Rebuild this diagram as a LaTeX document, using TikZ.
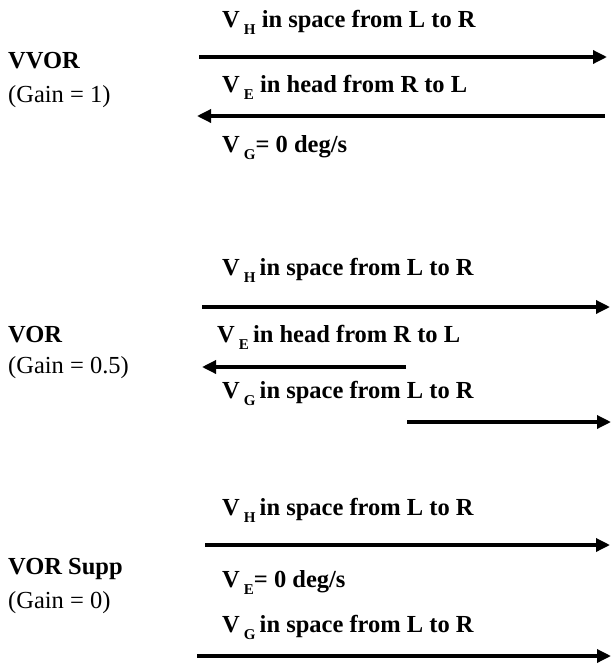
\documentclass[tikz,border=0pt]{standalone}
\usepackage{fontspec}
\setmainfont{Liberation Serif}
\usetikzlibrary{arrows.meta}
\def\vsub#1{V\,\raisebox{-0.3em}{\fontsize{15}{15}\selectfont #1}}

\begin{document}
\begin{tikzpicture}[x=1pt, y=-1pt, font=\fontsize{24.5}{29}\selectfont,
    txt/.style={anchor=base west, inner sep=0pt, font=\fontsize{24.5}{29}\selectfont\bfseries},
    gain/.style={anchor=base west, inner sep=0pt},
    vel/.style={draw=black, line width=3.3pt, -{Triangle[length=14pt, width=13pt]}}]
    \useasboundingbox (0, 0) rectangle (611, 664);
    % VVOR
    \node [txt] (vvor) at (8, 68) {VVOR};
    \node [gain] (gainA) at (8, 102) {(Gain = 1)};
    \node [txt] (headA) at (222, 27) {\vsub{H}\ in space from L to R};
    \node [txt] (eyeA) at (222, 92) {\vsub{E}\ in head from R to L};
    \node [txt] (gazeA) at (222, 152) {\vsub{G}= 0 deg/s};
    \coordinate (headAl) at (199, 57); \coordinate (headAr) at (607, 57);
    \coordinate (eyeAl) at (197, 116); \coordinate (eyeAr) at (605, 116);
    \path[vel] (headAl) -- (headAr);
    \path[vel] (eyeAr) -- (eyeAl);
    % VOR
    \node [txt] (vor) at (8, 342) {VOR};
    \node [gain] (gainB) at (8, 373) {(Gain = 0.5)};
    \node [txt] (headB) at (222, 275) {\vsub{H}\,in space from L to R};
    \node [txt] (eyeB) at (217, 342) {\vsub{E}\,in head from R to L};
    \node [txt] (gazeB) at (222, 398) {\vsub{G}\,in space from L to R};
    \coordinate (headBl) at (202, 307); \coordinate (headBr) at (610, 307);
    \coordinate (eyeBl) at (202, 367); \coordinate (eyeBr) at (406, 367);
    \coordinate (gazeBl) at (407, 422); \coordinate (gazeBr) at (611, 422);
    \path[vel] (headBl) -- (headBr);
    \path[vel] (eyeBr) -- (eyeBl);
    \path[vel] (gazeBl) -- (gazeBr);
    % VOR suppression
    \node [txt] (supp) at (8, 574) {VOR Supp};
    \node [gain] (gainC) at (8, 608) {(Gain = 0)};
    \node [txt] (headC) at (222, 515) {\vsub{H}\,in space from L to R};
    \node [txt] (eyeC) at (222, 587) {\vsub{E}= 0 deg/s};
    \node [txt] (gazeC) at (222, 632) {\vsub{G}\,in space from L to R};
    \coordinate (headCl) at (205, 545); \coordinate (headCr) at (610, 545);
    \coordinate (gazeCl) at (197, 656); \coordinate (gazeCr) at (611, 656);
    \path[vel] (headCl) -- (headCr);
    \path[vel] (gazeCl) -- (gazeCr);
\end{tikzpicture}
\end{document}
